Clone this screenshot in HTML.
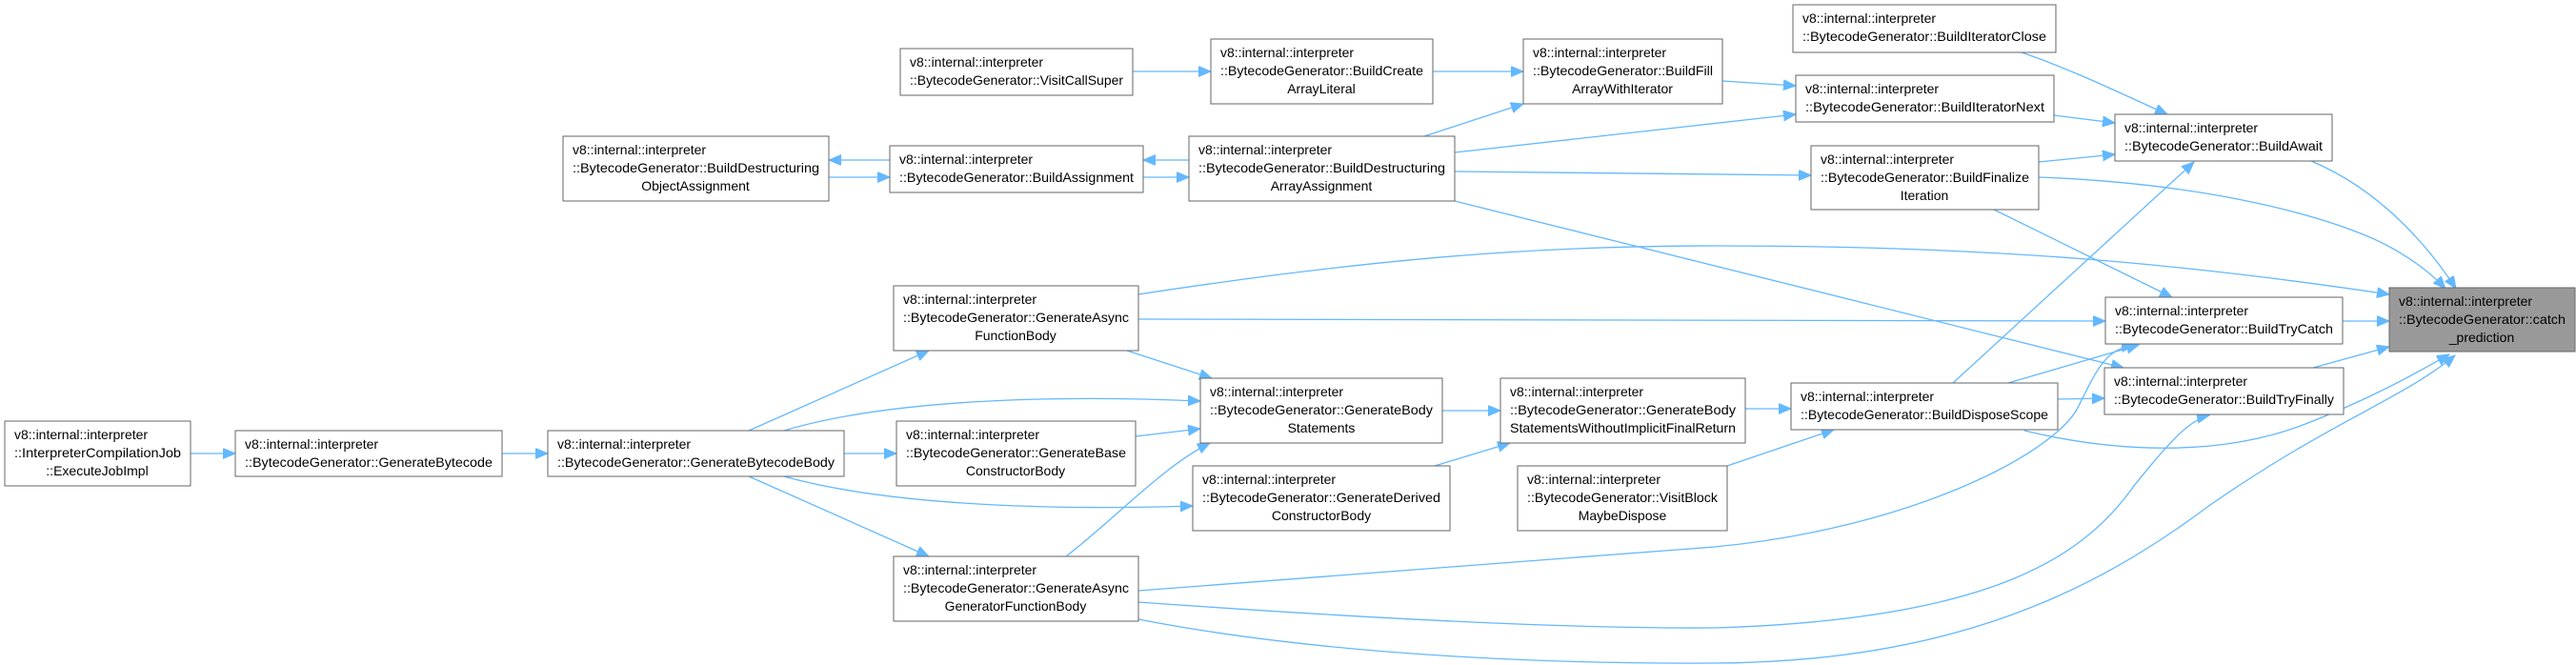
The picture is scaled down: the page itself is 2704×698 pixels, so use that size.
<!DOCTYPE html>
<html><head><meta charset="utf-8"><style>
html,body{margin:0;padding:0;background:#fff;}
svg{display:block;}
text{font-family:"Liberation Sans",sans-serif;font-size:14px;fill:#000;}
rect{fill:#fff;stroke:#666;stroke-width:1;}
path{fill:none;stroke:#63b8ff;stroke-width:1.3;}
</style></head><body>
<svg width="2704" height="698" viewBox="0 0 2704 698" xmlns="http://www.w3.org/2000/svg">
<defs>
<marker id="a" markerUnits="userSpaceOnUse" markerWidth="14" markerHeight="12" refX="13" refY="5.5" orient="auto">
<path d="M0,0 L13,5.5 L0,11 z" style="fill:#63b8ff;stroke:#63b8ff;stroke-width:1"/>
</marker>
</defs>
<g marker-end="url(#a)">
<path d="M200,476 L247,476"/>
<path d="M527,476 L575,476"/>
<path d="M786,452 L975,368"/>
<path d="M823,452 C930,420 1100,414 1260,421"/>
<path d="M886,476 L941,476"/>
<path d="M823,500 C930,530 1100,536 1252,531"/>
<path d="M786,500 L975,584"/>
<path d="M1183,368 L1272,397"/>
<path d="M1192,458 L1260,450"/>
<path d="M1119,584 C1170,545 1220,490 1270,465"/>
<path d="M1514,431 L1575,431"/>
<path d="M1506,489 L1585,465"/>
<path d="M1832,429 L1880,429"/>
<path d="M1813,489 L1925,451"/>
<path d="M1189,75 L1271,75"/>
<path d="M1504,75 L1599,75"/>
<path d="M1495,143 L1599,109"/>
<path d="M1527,160 L1885,120"/>
<path d="M1527,180 L1901,184"/>
<path d="M1527,211 L2229,386"/>
<path d="M1808,85 L1885,90"/>
<path d="M2122,55 C2180,75 2230,100 2275,120"/>
<path d="M2156,121 L2220,129"/>
<path d="M2140,170 L2220,162"/>
<path d="M2140,186 C2300,192 2420,220 2490,250 C2530,268 2555,290 2567,303"/>
<path d="M2093,220 L2280,312"/>
<path d="M2426,169 C2500,200 2550,260 2578,303"/>
<path d="M2050,402 L2303,170"/>
<path d="M2108,402 L2245,362"/>
<path d="M2160,419 L2209,418"/>
<path d="M2125,452 C2220,475 2330,480 2420,445 C2490,418 2535,392 2571,372"/>
<path d="M2459,337 L2508,337"/>
<path d="M2428,386 L2508,364"/>
<path d="M1195,309 C1450,270 1620,258 1800,258 C2100,258 2300,278 2508,309"/>
<path d="M1195,335 L2210,337"/>
<path d="M1195,620 C1450,600 1650,585 1800,574 C2000,555 2150,480 2180,430 C2200,390 2210,365 2240,363"/>
<path d="M1195,632 C1450,650 1650,660 1800,659 C2100,650 2190,580 2240,510 C2280,460 2300,440 2319,436"/>
<path d="M1195,650 C1400,690 1650,697 1800,696 C2050,695 2200,620 2320,530 C2450,440 2520,420 2577,373"/>
</g>
<g marker-end="url(#a)">
<path d="M934,168 L870,168"/>
<path d="M870,186 L934,186"/>
<path d="M1248,168 L1200,168"/>
<path d="M1200,186 L1248,186"/>
</g>

<rect x="5" y="442" width="195" height="68"/>
<text x="15" y="461">v8::internal::interpreter</text>
<text x="15" y="480" textLength="175" lengthAdjust="spacingAndGlyphs">::InterpreterCompilationJob</text>
<text x="102" y="499" text-anchor="middle">::ExecuteJobImpl</text>

<rect x="247" y="452" width="280" height="48"/>
<text x="257" y="471">v8::internal::interpreter</text>
<text x="257" y="490" textLength="260" lengthAdjust="spacingAndGlyphs">::BytecodeGenerator::GenerateBytecode</text>

<rect x="575" y="452" width="311" height="48"/>
<text x="585" y="471">v8::internal::interpreter</text>
<text x="585" y="490" textLength="291" lengthAdjust="spacingAndGlyphs">::BytecodeGenerator::GenerateBytecodeBody</text>

<rect x="591" y="143" width="279" height="68"/>
<text x="601" y="162">v8::internal::interpreter</text>
<text x="601" y="181" textLength="259" lengthAdjust="spacingAndGlyphs">::BytecodeGenerator::BuildDestructuring</text>
<text x="730" y="200" text-anchor="middle">ObjectAssignment</text>

<rect x="945" y="51" width="244" height="49"/>
<text x="955" y="70">v8::internal::interpreter</text>
<text x="955" y="89" textLength="224" lengthAdjust="spacingAndGlyphs">::BytecodeGenerator::VisitCallSuper</text>

<rect x="1271" y="41" width="233" height="68"/>
<text x="1281" y="60">v8::internal::interpreter</text>
<text x="1281" y="79" textLength="213" lengthAdjust="spacingAndGlyphs">::BytecodeGenerator::BuildCreate</text>
<text x="1387" y="98" text-anchor="middle">ArrayLiteral</text>

<rect x="1599" y="41" width="209" height="68"/>
<text x="1609" y="60">v8::internal::interpreter</text>
<text x="1609" y="79" textLength="189" lengthAdjust="spacingAndGlyphs">::BytecodeGenerator::BuildFill</text>
<text x="1703" y="98" text-anchor="middle">ArrayWithIterator</text>

<rect x="934" y="153" width="266" height="49"/>
<text x="944" y="172">v8::internal::interpreter</text>
<text x="944" y="191" textLength="246" lengthAdjust="spacingAndGlyphs">::BytecodeGenerator::BuildAssignment</text>

<rect x="1248" y="143" width="279" height="68"/>
<text x="1258" y="162">v8::internal::interpreter</text>
<text x="1258" y="181" textLength="259" lengthAdjust="spacingAndGlyphs">::BytecodeGenerator::BuildDestructuring</text>
<text x="1387" y="200" text-anchor="middle">ArrayAssignment</text>

<rect x="938" y="300" width="257" height="68"/>
<text x="948" y="319">v8::internal::interpreter</text>
<text x="948" y="338" textLength="237" lengthAdjust="spacingAndGlyphs">::BytecodeGenerator::GenerateAsync</text>
<text x="1066" y="357" text-anchor="middle">FunctionBody</text>

<rect x="1260" y="397" width="254" height="68"/>
<text x="1270" y="416">v8::internal::interpreter</text>
<text x="1270" y="435" textLength="234" lengthAdjust="spacingAndGlyphs">::BytecodeGenerator::GenerateBody</text>
<text x="1387" y="454" text-anchor="middle">Statements</text>

<rect x="941" y="442" width="251" height="68"/>
<text x="951" y="461">v8::internal::interpreter</text>
<text x="951" y="480" textLength="231" lengthAdjust="spacingAndGlyphs">::BytecodeGenerator::GenerateBase</text>
<text x="1066" y="499" text-anchor="middle">ConstructorBody</text>

<rect x="1252" y="489" width="270" height="68"/>
<text x="1262" y="508">v8::internal::interpreter</text>
<text x="1262" y="527" textLength="250" lengthAdjust="spacingAndGlyphs">::BytecodeGenerator::GenerateDerived</text>
<text x="1387" y="546" text-anchor="middle">ConstructorBody</text>

<rect x="938" y="584" width="257" height="68"/>
<text x="948" y="603">v8::internal::interpreter</text>
<text x="948" y="622" textLength="237" lengthAdjust="spacingAndGlyphs">::BytecodeGenerator::GenerateAsync</text>
<text x="1066" y="641" text-anchor="middle">GeneratorFunctionBody</text>

<rect x="1575" y="397" width="257" height="68"/>
<text x="1585" y="416">v8::internal::interpreter</text>
<text x="1585" y="435" textLength="237" lengthAdjust="spacingAndGlyphs">::BytecodeGenerator::GenerateBody</text>
<text x="1585" y="454" textLength="237" lengthAdjust="spacingAndGlyphs">StatementsWithoutImplicitFinalReturn</text>

<rect x="1593" y="489" width="220" height="68"/>
<text x="1603" y="508">v8::internal::interpreter</text>
<text x="1603" y="527" textLength="200" lengthAdjust="spacingAndGlyphs">::BytecodeGenerator::VisitBlock</text>
<text x="1703" y="546" text-anchor="middle">MaybeDispose</text>

<rect x="1882" y="5" width="276" height="50"/>
<text x="1892" y="24">v8::internal::interpreter</text>
<text x="1892" y="43" textLength="256" lengthAdjust="spacingAndGlyphs">::BytecodeGenerator::BuildIteratorClose</text>

<rect x="1885" y="79" width="271" height="49"/>
<text x="1895" y="98">v8::internal::interpreter</text>
<text x="1895" y="117" textLength="251" lengthAdjust="spacingAndGlyphs">::BytecodeGenerator::BuildIteratorNext</text>

<rect x="1901" y="153" width="239" height="67"/>
<text x="1911" y="172">v8::internal::interpreter</text>
<text x="1911" y="191" textLength="219" lengthAdjust="spacingAndGlyphs">::BytecodeGenerator::BuildFinalize</text>
<text x="2020" y="210" text-anchor="middle">Iteration</text>

<rect x="2220" y="120" width="228" height="49"/>
<text x="2230" y="139">v8::internal::interpreter</text>
<text x="2230" y="158" textLength="208" lengthAdjust="spacingAndGlyphs">::BytecodeGenerator::BuildAwait</text>

<rect x="2210" y="312" width="249" height="49"/>
<text x="2220" y="331">v8::internal::interpreter</text>
<text x="2220" y="350" textLength="229" lengthAdjust="spacingAndGlyphs">::BytecodeGenerator::BuildTryCatch</text>

<rect x="2209" y="386" width="251" height="49"/>
<text x="2219" y="405">v8::internal::interpreter</text>
<text x="2219" y="424" textLength="231" lengthAdjust="spacingAndGlyphs">::BytecodeGenerator::BuildTryFinally</text>

<rect x="1880" y="402" width="280" height="49"/>
<text x="1890" y="421">v8::internal::interpreter</text>
<text x="1890" y="440" textLength="260" lengthAdjust="spacingAndGlyphs">::BytecodeGenerator::BuildDisposeScope</text>

<rect x="2508" y="302" width="195" height="67" style="fill:#999"/>
<text x="2518" y="321">v8::internal::interpreter</text>
<text x="2518" y="340" textLength="175" lengthAdjust="spacingAndGlyphs">::BytecodeGenerator::catch</text>
<text x="2605" y="359" text-anchor="middle">_prediction</text>
</svg>
</body></html>
